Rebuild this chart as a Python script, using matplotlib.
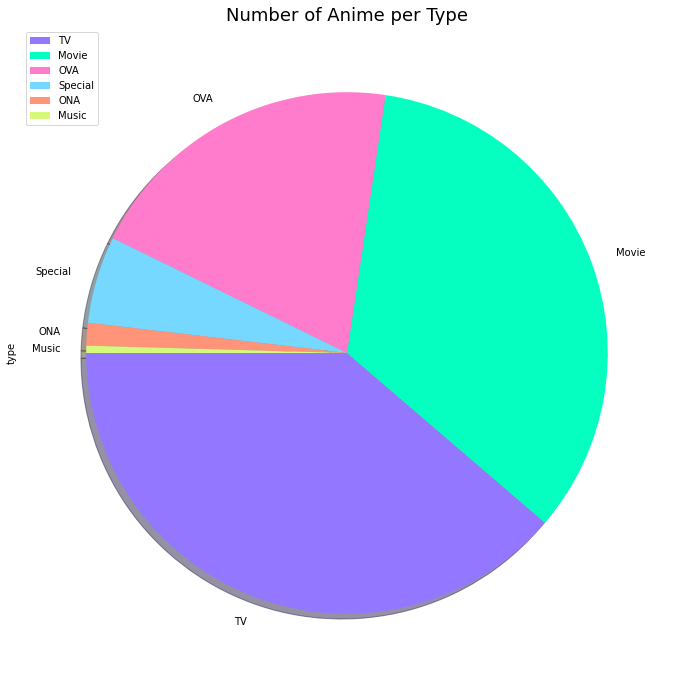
import matplotlib
matplotlib.use("Agg")
import matplotlib.pyplot as plt

types = ["TV", "Movie", "OVA", "Special", "ONA", "Music"]
counts = [38.7, 33.9, 20.1, 5.4, 1.4, 0.45]
colors = ["#9378ff", "#05ffc0", "#ff7bcc", "#77d8ff", "#ff9478", "#d7f97b"]

fig = plt.figure(figsize=(680/72, 686/72), dpi=72)
ax = fig.add_axes([21/680, 7/686, 652/680, 652/686])
ax.pie(counts, labels=types, colors=colors, startangle=180, shadow=True)
ax.set_title("Number of Anime per Type", fontsize=18)
ax.set_ylabel("type")
ax.legend(loc="upper left")
fig.savefig("out.png", dpi=72)
